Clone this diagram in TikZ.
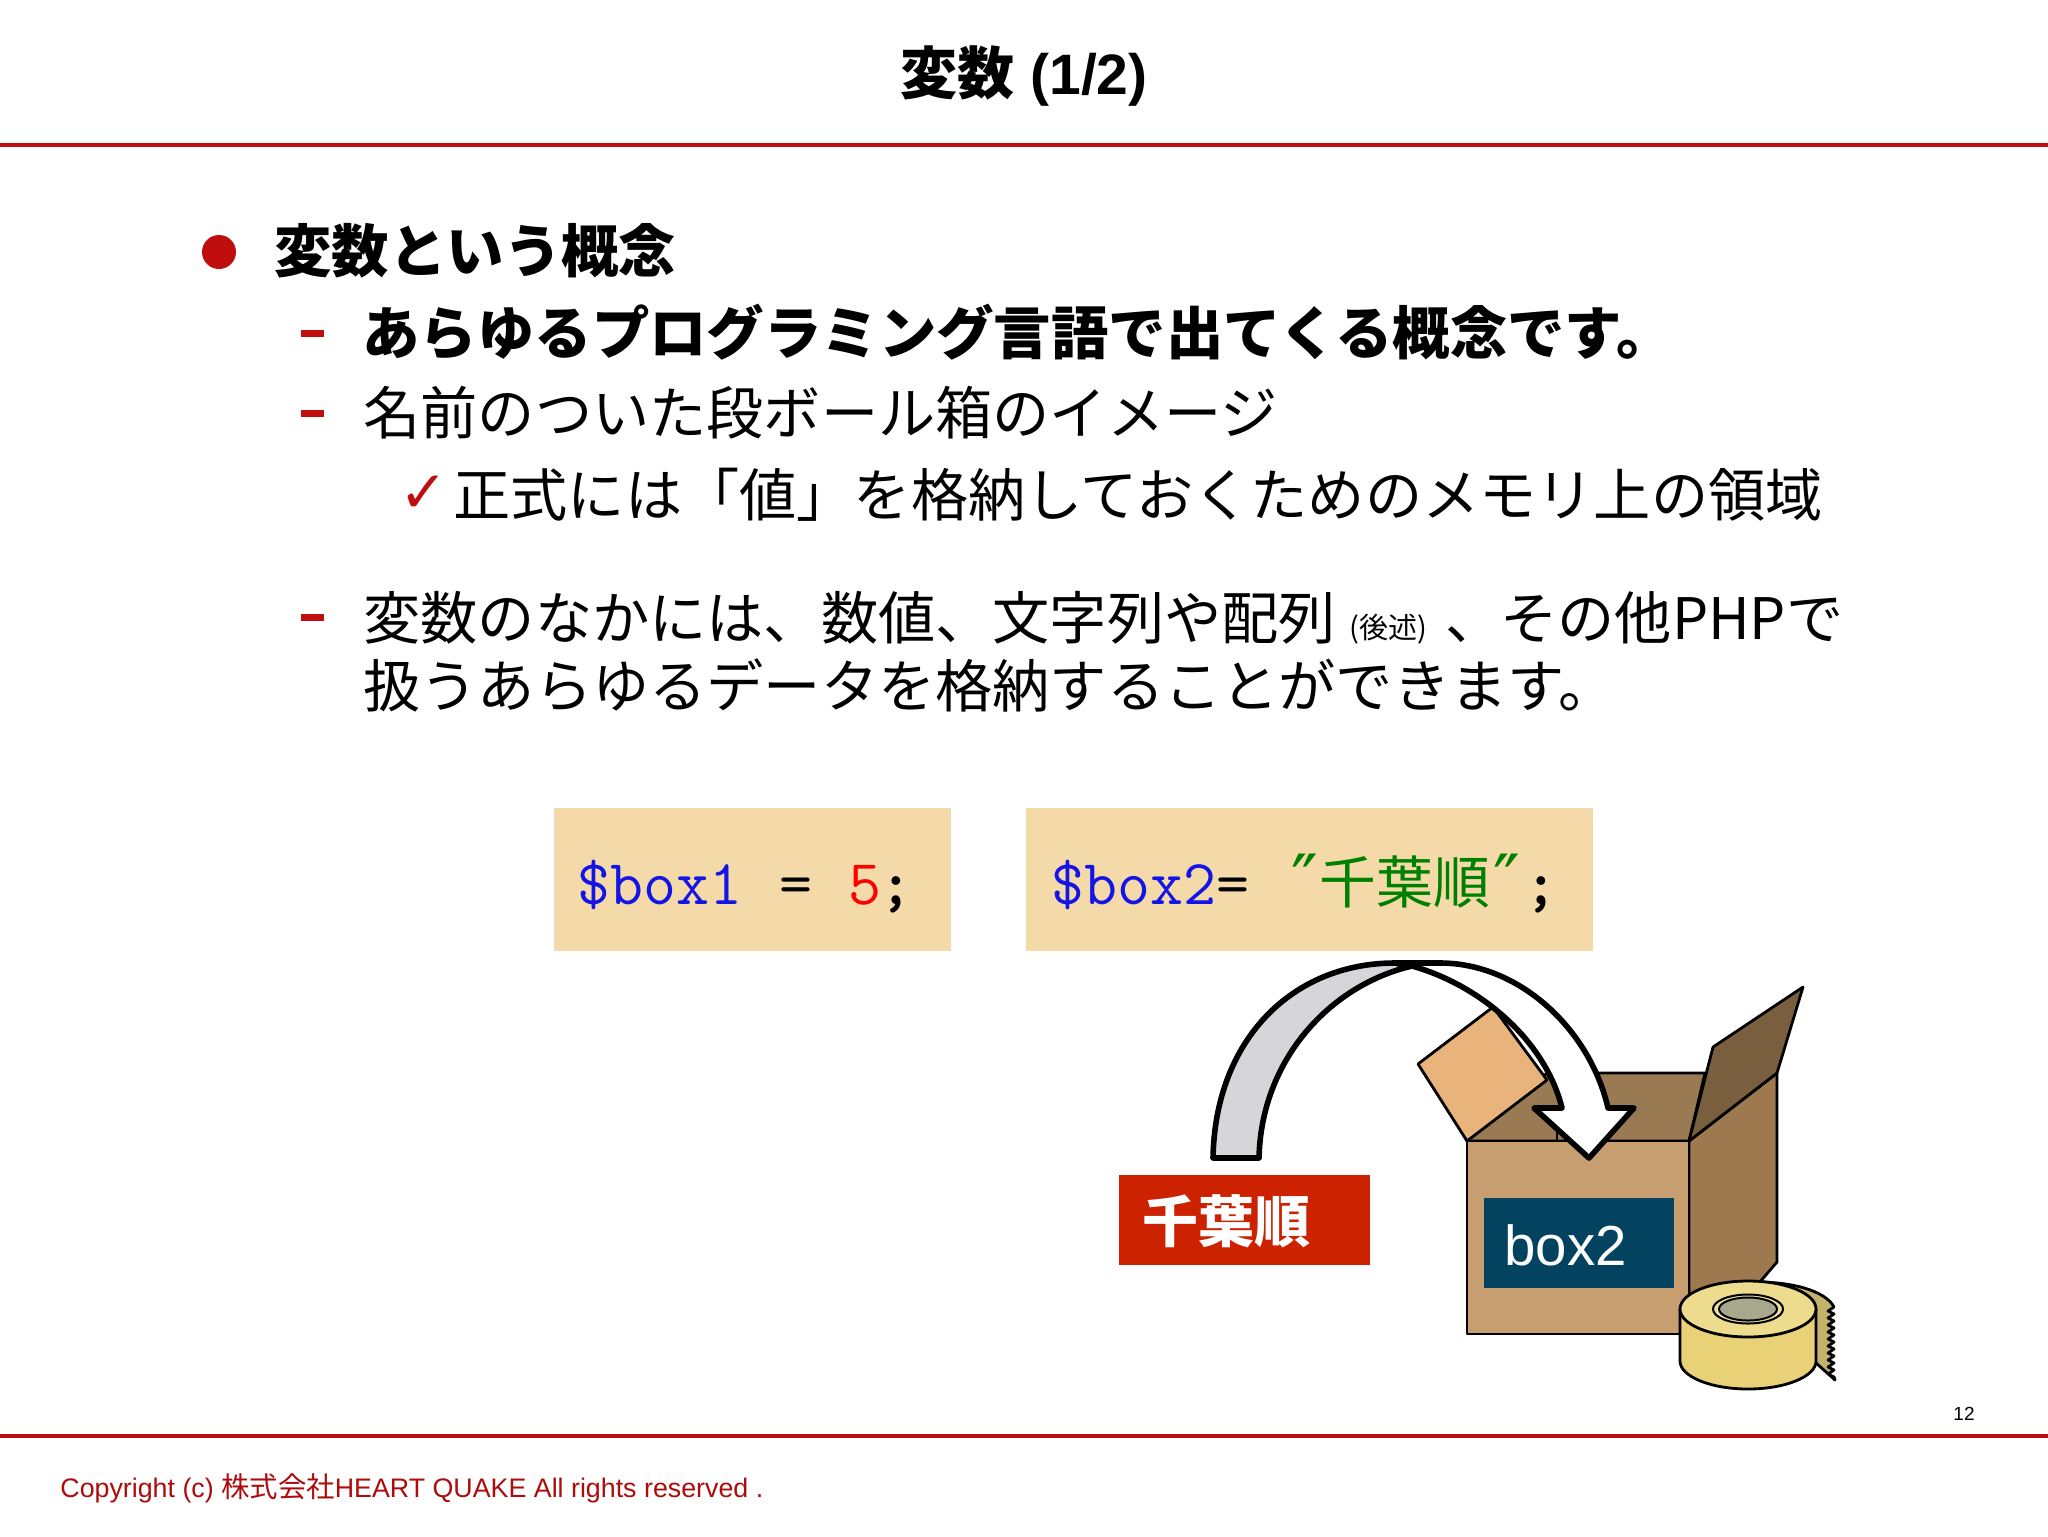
\documentclass[tikz,border=0pt]{standalone}
\usepackage{fontspec}
\setmainfont{Liberation Sans}
\newfontfamily\jp{Noto Sans CJK JP}
\newfontfamily\sym{DejaVu Sans}
\definecolor{rulered}{HTML}{C00D0D}
\definecolor{codebg}{HTML}{F4DAA8}
\definecolor{labelred}{HTML}{CC2200}
\definecolor{labelblue}{HTML}{04435F}
\definecolor{codeblue}{HTML}{1414E6}
\definecolor{codegreen}{HTML}{008000}
\definecolor{boxfront}{HTML}{C69E6F}
\definecolor{boxside}{HTML}{9E7950}
\definecolor{boxinner}{HTML}{9A7A52}
\definecolor{flapleft}{HTML}{E8B47C}
\definecolor{flapright}{HTML}{7A5F3E}
\definecolor{arrowgrey}{HTML}{D6D6DA}
\definecolor{tapeside}{HTML}{E9D177}
\definecolor{tapetop}{HTML}{EEDC8E}
\definecolor{tapetail}{HTML}{C4B26A}
\definecolor{tapering}{HTML}{EEE0A0}
\definecolor{tapehole}{HTML}{A8A88E}
\tikzset{
	bodytext/.style={anchor=base west,inner sep=0pt,font=\jp\fontsize{28.6}{34}\selectfont},
	headtext/.style={bodytext,font=\jp\bfseries\fontsize{28.7}{34}\selectfont},
	codetext/.style={anchor=base west,inner sep=0pt,font=\ttfamily\fontsize{32}{38}\selectfont},
	codecjk/.style={anchor=base,inner sep=0pt,text=codegreen,font=\jp\fontsize{28.4}{34}\selectfont},
	codequote/.style={codecjk,font=\sym\fontsize{36}{40}\selectfont},
	cardboard/.style={draw=black,line width=1.4pt,line join=round},
	bigarrow/.style={draw=black,line width=2.8pt,line join=round},
}
\begin{document}
\begin{tikzpicture}[x=0.5pt,y=-0.5pt]
	\useasboundingbox (0,0) rectangle (2048,1536);
	\fill[white] (0,0) rectangle (2048,1536);
	% title and rules
	\node[inner sep=0pt] (title) at (1024,76) {\fontsize{28.5}{34}\selectfont\bfseries{\jp 変数} (1/2)};
	\draw[rulered,line width=2pt] (0,145) -- (2048,145);
	\draw[rulered,line width=2pt] (0,1436) -- (2048,1436);
	% bullets
	\fill[rulered] (219,252) circle (17);
	\foreach \y in {333,413,617}
		\fill[rulered] (301,\y-3) rectangle (324,\y+4);
	\node[anchor=base west,inner sep=0pt,text=rulered,font=\sym\fontsize{29}{34}\selectfont] (check) at (399,512) {✓};
	% text rows
	\node[headtext] (head) at (274,272) {変数という概念};
	\node[headtext] (rowa) at (362,354) {あらゆるプログラミング言語で出てくる概念です。};
	\node[bodytext] (rowb) at (363,434) {名前のついた段ボール箱のイメージ};
	\node[bodytext] (rowc) at (453,516) {正式には「値」を格納しておくためのメモリ上の領域};
	\node[bodytext] (rowd) at (363,639) {変数のなかには、数値、文字列や配列};
	\node[inner sep=0pt,font=\jp\fontsize{14.5}{17}\selectfont] (later) at (1388,629) {(後述)};
	\node[bodytext] (comma) at (1445,639) {、};
	\node[bodytext] (rowe) at (1500,639) {その他PHPで};
	\node[bodytext] (rowf) at (363,707) {扱うあらゆるデータを格納することができます。};
	% code boxes
	\fill[codebg] (554,808) rectangle (951,951);
	\fill[codebg] (1026,808) rectangle (1593,951);
	\node[codetext] (codea) at (577,904) {\textcolor{codeblue}{\$box1} \hspace{2pt}= \hspace{1.8pt}\textcolor{red}{5}\hspace{-1.2pt}\textbf{;}};
	\node[codetext] (codeb) at (1051,904) {\textcolor{codeblue}{\$box2}=};
	\node[codecjk] (name) at (1405,903) {千葉順};
	\node[codequote] (quotea) at (1305,906) {″};
	\node[codequote] (quoteb) at (1507,906) {″};
	\node[codetext] (semi) at (1524,904) {\textbf{;}};
	% carton
	\draw[cardboard,fill=boxside] (1689,1141) -- (1777,1073) -- (1777,1262) -- (1753,1290) -- (1689,1334) -- cycle;
	\draw[cardboard,fill=boxinner] (1467,1141) -- (1547,1073) -- (1705,1073) -- (1689,1141) -- cycle;
	\draw[line width=1pt] (1557,1130) -- (1557,1141);
	\draw[cardboard,fill=flapleft] (1467,1141) -- (1418,1064) -- (1493,1007) -- (1547,1080) -- cycle;
	\draw[cardboard,fill=flapright] (1689,1141) -- (1713,1047) -- (1803,987) -- (1777,1073) -- cycle;
	\draw[cardboard,fill=boxfront] (1467,1141) rectangle (1689,1334);
	\fill[labelblue] (1484,1198) rectangle (1674,1288);
	\node[anchor=base west,inner sep=0pt,text=white,font=\fontsize{28.2}{33}\selectfont] (boxname) at (1504,1265) {box2};
	% value label
	\fill[labelred] (1119,1175) rectangle (1370,1265);
	\node[inner sep=0pt,text=white,font=\jp\bfseries\fontsize{28}{34}\selectfont] (value) at (1226,1221) {千葉順};
	% curved arrow
	\draw[bigarrow,fill=arrowgrey] (1213,1158) .. controls (1215,1040) and (1292,963) .. (1395,963) -- (1412,966) .. controls (1330,985) and (1261,1060) .. (1259,1158) -- cycle;
	\draw[bigarrow,fill=white] (1395,963) -- (1440,963) .. controls (1520,963) and (1590,1030) .. (1608,1108) -- (1634,1108) -- (1589,1158) -- (1534,1108) -- (1562,1108) .. controls (1545,1040) and (1480,985) .. (1412,966) -- cycle;
	% tape
	\draw[cardboard,fill=tapetail] (1758,1282) .. controls (1790,1282) and (1825,1290) .. (1834,1307)
		\foreach \i in {0,...,9} { -- (1828,1311+\i*7) -- (1834,1314+\i*7) } -- (1835,1380) -- (1816,1363) -- cycle;
	\draw[cardboard,fill=tapeside] (1680,1309) -- (1680,1361) arc [start angle=180,end angle=0,x radius=68,y radius=28] -- (1816,1309) -- cycle;
	\draw[cardboard,fill=tapetop] (1748,1309) ellipse [x radius=68,y radius=28];
	\draw[line width=1pt,fill=tapering] (1748,1309) ellipse [x radius=35,y radius=14.5];
	\draw[line width=1pt,fill=tapehole] (1748,1309) ellipse [x radius=29,y radius=11.5];
	% footer
	\node[anchor=base west,inner sep=0pt,text=rulered!90!black,font=\fontsize{13.4}{17}\selectfont] (copyright) at (60,1497) {Copyright (c) {\jp\fontsize{14.2}{17}\selectfont 株式会社}HEART QUAKE All rights reserved .};
	\node[inner sep=0pt,font=\fontsize{9.5}{11}\selectfont] (page) at (1964,1414) {12};
\end{tikzpicture}
\end{document}
